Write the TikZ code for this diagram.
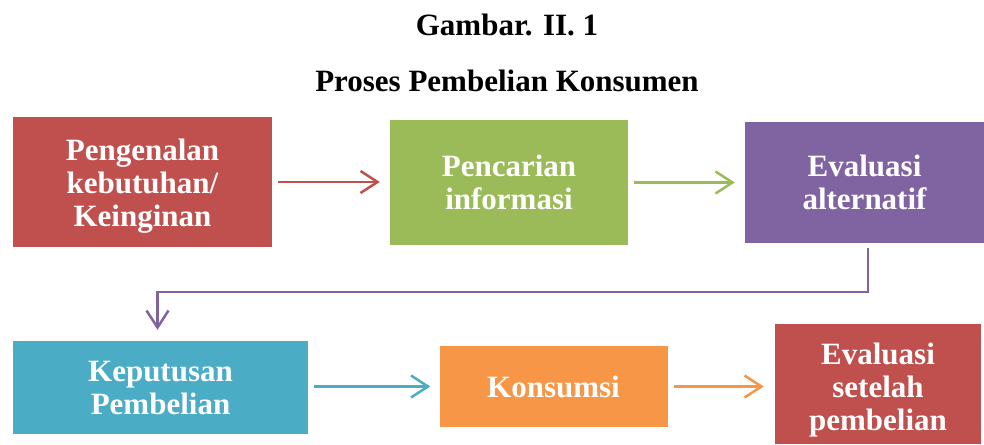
\documentclass[tikz,border=0pt]{standalone}
\usepackage{fontspec}
\setmainfont{Liberation Serif}
\usetikzlibrary{arrows.meta}
\definecolor{cred}{HTML}{C0504D}
\definecolor{cgreen}{HTML}{9BBB59}
\definecolor{cpurple}{HTML}{8064A2}
\definecolor{cblue}{HTML}{4BACC6}
\definecolor{corange}{HTML}{F79646}
\tikzset{
  box/.style={rectangle, inner sep=0pt, text=white, align=center,
    font=\fontsize{31}{33}\selectfont\bfseries},
  arr/.style={line width=2.5pt, -{Straight Barb[length=17pt,width=22pt,line width=2.5pt]}},
  ttl/.style={anchor=base, font=\fontsize{31}{36}\selectfont\bfseries}
}
\begin{document}
\begin{tikzpicture}[x=1pt,y=-1pt]
\useasboundingbox (0,0) rectangle (984,444);
\node[ttl] (t1) at (507,36) {Gambar. II. 1};
\node[ttl] (t2) at (507,91) {Proses Pembelian Konsumen};
\node[box, fill=cred, minimum width=259pt, minimum height=130pt] (b1) at (142.5,182) {\rule{0pt}{29pt}Pengenalan\\kebutuhan/\\Keinginan};
\node[box, fill=cgreen, minimum width=238pt, minimum height=125pt] (b2) at (509,182.5) {Pencarian\\informasi};
\node[box, fill=cpurple, minimum width=239pt, minimum height=121pt] (b3) at (864.5,182.5) {Evaluasi\\alternatif};
\node[box, fill=cblue, minimum width=295pt, minimum height=93pt] (b4) at (160.5,387.5) {Keputusan\\Pembelian};
\node[box, fill=corange, minimum width=228pt, minimum height=81pt] (b5) at (553.5,386.5) {Konsumsi};
\node[box, fill=cred, minimum width=206pt, minimum height=120pt] (b6) at (878,384) {\rule{0pt}{33pt}Evaluasi\\setelah\\pembelian};
\coordinate (c1) at (868,292);
\draw[arr, cred, shorten <=6pt, shorten >=10pt] (b1.east) -- (b2.west |- b1.east);
\draw[arr, cgreen, shorten <=6pt, shorten >=10pt] (b2.east) -- (b3.west |- b2.east);
\draw[arr, cpurple, shorten <=5pt, shorten >=11pt] (b3.south -| c1) -- (c1) -| ([xshift=-3pt]b4.north);
\draw[arr, cblue, shorten <=6pt, shorten >=9pt] (b4.east |- b5.west) -- (b5.west);
\draw[arr, corange, shorten <=6pt, shorten >=11pt] (b5.east) -- (b6.west |- b5.east);
\end{tikzpicture}
\end{document}
